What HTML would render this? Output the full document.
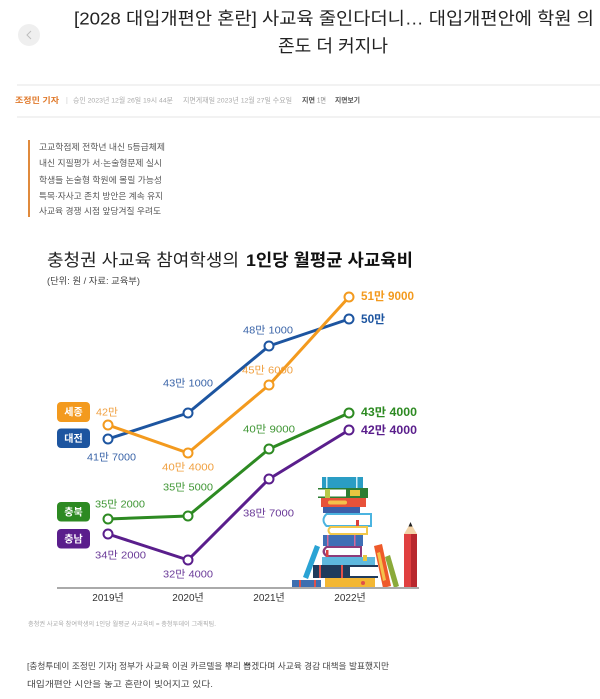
<!DOCTYPE html>
<html>
<head>
<meta charset="utf-8">
<style>
html,body{margin:0;padding:0;background:#fff;}
svg{display:block;}
text{font-family:"Liberation Sans","Noto Sans CJK KR",sans-serif;}
</style>
</head>
<body>
<svg width="600" height="699" viewBox="0 0 600 699" xmlns="http://www.w3.org/2000/svg">
<rect width="600" height="699" fill="#fff"/>

<!-- back button -->
<circle cx="29" cy="35" r="11" fill="#efefef"/>
<path d="M31 31 L27 35 L31 39" fill="none" stroke="#bdbdbd" stroke-width="1"/>

<!-- headline -->
<text x="74" y="24.5" font-size="17.5" fill="#222" textLength="520" lengthAdjust="spacingAndGlyphs">[2028 대입개편안 혼란] 사교육 줄인다더니… 대입개편안에 학원 의</text>
<text x="278" y="52" font-size="17.5" fill="#222" textLength="110" lengthAdjust="spacingAndGlyphs">존도 더 커지나</text>

<!-- byline -->
<line x1="17" y1="85" x2="600" y2="85" stroke="#e6e6e6" stroke-width="1"/>
<line x1="17" y1="117" x2="600" y2="117" stroke="#e6e6e6" stroke-width="1"/>
<text x="15" y="103" font-size="8" font-weight="bold" fill="#E07A2C" textLength="44" lengthAdjust="spacingAndGlyphs">조정민 기자</text>
<text x="66" y="102.5" font-size="7" fill="#ccc">|</text>
<text x="73" y="102.5" font-size="6.8" fill="#aaa" textLength="100" lengthAdjust="spacingAndGlyphs">승인 2023년 12월 26일 19시 44분</text>
<text x="183" y="102.5" font-size="6.8" fill="#aaa" textLength="109" lengthAdjust="spacingAndGlyphs">지면게재일 2023년 12월 27일 수요일</text>
<text x="302" y="102.5" font-size="7" fill="#555" font-weight="bold" textLength="13" lengthAdjust="spacingAndGlyphs">지면</text>
<text x="317" y="102.5" font-size="7" fill="#888" textLength="9" lengthAdjust="spacingAndGlyphs">1면</text>
<text x="335" y="102.5" font-size="7" fill="#555" font-weight="bold" textLength="25" lengthAdjust="spacingAndGlyphs">지면보기</text>

<!-- summary -->
<rect x="28" y="140" width="2" height="77" fill="#E08A3C"/>
<g font-size="8.5" fill="#555">
<text x="39" y="150" textLength="126" lengthAdjust="spacingAndGlyphs">고교학점제 전학년 내신 5등급체제</text>
<text x="39" y="166" textLength="123" lengthAdjust="spacingAndGlyphs">내신 지필평가 서·논술형문제 실시</text>
<text x="39" y="183" textLength="123" lengthAdjust="spacingAndGlyphs">학생들 논술형 학원에 몰릴 가능성</text>
<text x="39" y="199" textLength="124" lengthAdjust="spacingAndGlyphs">특목·자사고 존치 방안은 계속 유지</text>
<text x="39" y="214" textLength="122" lengthAdjust="spacingAndGlyphs">사교육 경쟁 시점 앞당겨질 우려도</text>
</g>

<!-- chart title -->
<text x="47" y="266" font-size="17" fill="#222" textLength="192" lengthAdjust="spacingAndGlyphs">충청권 사교육 참여학생의</text>
<text x="246" y="266" font-size="17" fill="#111" font-weight="bold" textLength="167" lengthAdjust="spacingAndGlyphs">1인당 월평균 사교육비</text>
<text x="47" y="284" font-size="9" fill="#444" textLength="93" lengthAdjust="spacingAndGlyphs">(단위: 원 / 자료: 교육부)</text>

<!-- books illustration -->
<g>
  <rect x="292" y="580" width="29" height="8" fill="#3E6FB0"/>
  <rect x="299" y="580" width="2" height="8" fill="#E0504A"/>
  <rect x="314" y="580" width="2" height="8" fill="#E0504A"/>
  <polygon points="303,577 315,545 320,547 308,579" fill="#2AA3D4"/>
  <rect x="322" y="477" width="41" height="11" fill="#2A9DC4"/>
  <rect x="326" y="477" width="1.5" height="11" fill="#cfeef8"/>
  <rect x="356" y="477" width="1.5" height="11" fill="#cfeef8"/>
  <rect x="318" y="488" width="50" height="10" fill="#2E7D32"/>
  <rect x="318" y="489.5" width="28" height="7" fill="#fff"/>
  <rect x="350" y="490" width="10" height="6" fill="#E8C640"/>
  <rect x="325" y="489" width="5" height="10" fill="#B7C94A"/>
  <rect x="321" y="498" width="45" height="9" fill="#E8523A"/>
  <rect x="328" y="500.5" width="19" height="4" rx="2" fill="#F4C14B"/>
  <rect x="323" y="507" width="37" height="6" fill="#3D5FA8"/>
  <path d="M326 513 H372 V527 H326 Q319 520 326 513 Z" fill="#4BB4E0"/>
  <path d="M327 515 H370 V525 H327 Q322 520 327 515 Z" fill="#fff"/>
  <rect x="356" y="520" width="3" height="8" fill="#D9413F"/>
  <path d="M330 526 H368 V535 H330 Q325 530.5 330 526 Z" fill="#F2C84B"/>
  <path d="M331 528 H366 V533 H331 Q328 530.5 331 528 Z" fill="#fff"/>
  <rect x="323" y="535" width="40" height="11" fill="#3F6FB5"/>
  <rect x="327" y="535" width="1.5" height="11" fill="#D76A9A"/>
  <rect x="354" y="535" width="1.5" height="11" fill="#D76A9A"/>
  <path d="M326 546 H362 V557 H326 Q319 551.5 326 546 Z" fill="#8E3B7A"/>
  <path d="M327 548 H360 V555 H327 Q323 551.5 327 548 Z" fill="#fff"/>
  <rect x="326" y="550" width="2.5" height="10" fill="#D9413F"/>
  <rect x="322" y="557" width="53" height="8" fill="#5EB8DE"/>
  <rect x="363" y="555" width="4" height="6" fill="#E8C640"/>
  <rect x="313" y="565" width="65" height="13" fill="#1F3B5C"/>
  <rect x="350" y="567" width="28" height="9" fill="#fff"/>
  <rect x="319" y="565" width="2" height="13" fill="#E0504A"/>
  <rect x="341" y="565" width="2" height="13" fill="#E0504A"/>
  <rect x="325" y="578" width="50" height="10" fill="#F3B733"/>
  <circle cx="363" cy="583" r="2" fill="#E0504A"/>
  <polygon points="374,546 382,544 391,586 383,588" fill="#EE5A2A"/>
  <polygon points="377,553 380,552 386,580 383,581" fill="#F4C14B"/>
  <polygon points="385,557 390,555 399,586 394,588" fill="#8BAA3A"/>
  <rect x="404" y="534" width="13" height="54" fill="#E04040"/>
  <rect x="411" y="534" width="6" height="54" fill="#B8282E"/>
  <polygon points="404,534 417,534 410.5,523" fill="#F2D3A8"/>
  <polygon points="408.5,526.5 412.5,526.5 410.5,522" fill="#222"/>
</g>

<!-- x axis -->
<line x1="57" y1="588" x2="419" y2="588" stroke="#aaa" stroke-width="2"/>
<g font-size="10" fill="#333" text-anchor="middle">
<text x="108" y="601">2019년</text>
<text x="188" y="601">2020년</text>
<text x="269" y="601">2021년</text>
<text x="350" y="601">2022년</text>
</g>

<!-- series lines -->
<g fill="none" stroke-width="3" stroke-linejoin="round">
<polyline points="108,534 188,560 269,479 349,430" stroke="#5A1E8C"/>
<polyline points="108,519 188,516 269,449 349,413" stroke="#2D8A22"/>
<polyline points="108,439 188,413 269,346 349,319" stroke="#1D55A0"/>
<polyline points="108,425 188,453 269,385 349,297" stroke="#F39A1E"/>
</g>
<g fill="#fff" stroke-width="2">
<circle cx="108" cy="534" r="4.5" stroke="#5A1E8C"/>
<circle cx="188" cy="560" r="4.5" stroke="#5A1E8C"/>
<circle cx="269" cy="479" r="4.5" stroke="#5A1E8C"/>
<circle cx="349" cy="430" r="4.5" stroke="#5A1E8C"/>
<circle cx="108" cy="519" r="4.5" stroke="#2D8A22"/>
<circle cx="188" cy="516" r="4.5" stroke="#2D8A22"/>
<circle cx="269" cy="449" r="4.5" stroke="#2D8A22"/>
<circle cx="349" cy="413" r="4.5" stroke="#2D8A22"/>
<circle cx="108" cy="439" r="4.5" stroke="#1D55A0"/>
<circle cx="188" cy="413" r="4.5" stroke="#1D55A0"/>
<circle cx="269" cy="346" r="4.5" stroke="#1D55A0"/>
<circle cx="349" cy="319" r="4.5" stroke="#1D55A0"/>
<circle cx="108" cy="425" r="4.5" stroke="#F39A1E"/>
<circle cx="188" cy="453" r="4.5" stroke="#F39A1E"/>
<circle cx="269" cy="385" r="4.5" stroke="#F39A1E"/>
<circle cx="349" cy="297" r="4.5" stroke="#F39A1E"/>
</g>

<!-- data labels -->
<g font-size="10.5">
<text x="96" y="415.5" fill="#F0A040" textLength="22" lengthAdjust="spacingAndGlyphs">42만</text>
<text x="87" y="460.5" fill="#3A64A8" textLength="49" lengthAdjust="spacingAndGlyphs">41만 7000</text>
<text x="163" y="386.5" fill="#3A64A8" textLength="50" lengthAdjust="spacingAndGlyphs">43만 1000</text>
<text x="162" y="470.5" fill="#F0A040" textLength="52" lengthAdjust="spacingAndGlyphs">40만 4000</text>
<text x="242" y="373.5" fill="#F0A040" textLength="51" lengthAdjust="spacingAndGlyphs">45만 6000</text>
<text x="243" y="333.5" fill="#3A64A8" textLength="50" lengthAdjust="spacingAndGlyphs">48만 1000</text>
<text x="243" y="432.5" fill="#3F9634" textLength="52" lengthAdjust="spacingAndGlyphs">40만 9000</text>
<text x="163" y="490.5" fill="#3F9634" textLength="50" lengthAdjust="spacingAndGlyphs">35만 5000</text>
<text x="95" y="507.5" fill="#3F9634" textLength="50" lengthAdjust="spacingAndGlyphs">35만 2000</text>
<text x="243" y="516.5" fill="#6A3A98" textLength="51" lengthAdjust="spacingAndGlyphs">38만 7000</text>
<text x="95" y="558.5" fill="#6A3A98" textLength="51" lengthAdjust="spacingAndGlyphs">34만 2000</text>
<text x="163" y="577.5" fill="#6A3A98" textLength="50" lengthAdjust="spacingAndGlyphs">32만 4000</text>
</g>
<g font-size="11.5" font-weight="bold">
<text x="361" y="300" fill="#F39A1E" textLength="53" lengthAdjust="spacingAndGlyphs">51만 9000</text>
<text x="361" y="323" fill="#1D55A0" textLength="24" lengthAdjust="spacingAndGlyphs">50만</text>
<text x="361" y="416" fill="#2D8A22" textLength="56" lengthAdjust="spacingAndGlyphs">43만 4000</text>
<text x="361" y="434" fill="#5A1E8C" textLength="56" lengthAdjust="spacingAndGlyphs">42만 4000</text>
</g>

<!-- legend boxes -->
<rect x="57" y="402" width="33" height="20" rx="4" fill="#F39A1E"/>
<rect x="57" y="428.5" width="33" height="19.5" rx="4" fill="#1D55A0"/>
<rect x="57" y="502" width="33" height="19.5" rx="4" fill="#2D8A22"/>
<rect x="57" y="529" width="33" height="19.5" rx="4" fill="#5A1E8C"/>
<g font-size="10" fill="#fff" text-anchor="middle" font-weight="bold">
<text x="73.5" y="415.5">세종</text>
<text x="73.5" y="441.8">대전</text>
<text x="73.5" y="515.3">충북</text>
<text x="73.5" y="542.3">충남</text>
</g>

<!-- caption -->
<text x="28" y="626" font-size="6" fill="#aaa" textLength="188" lengthAdjust="spacingAndGlyphs">충청권 사교육 참여학생의 1인당 월평균 사교육비 = 충청투데이 그래픽팀.</text>

<!-- body -->
<text x="27" y="669" font-size="8.5" fill="#444" textLength="362" lengthAdjust="spacingAndGlyphs">[충청투데이 조정민 기자] 정부가 사교육 이권 카르텔을 뿌리 뽑겠다며 사교육 경감 대책을 발표했지만</text>
<text x="27" y="687" font-size="8.5" fill="#444" textLength="186" lengthAdjust="spacingAndGlyphs">대입개편안 시안을 놓고 혼란이 빚어지고 있다.</text>
</svg>
</body>
</html>
